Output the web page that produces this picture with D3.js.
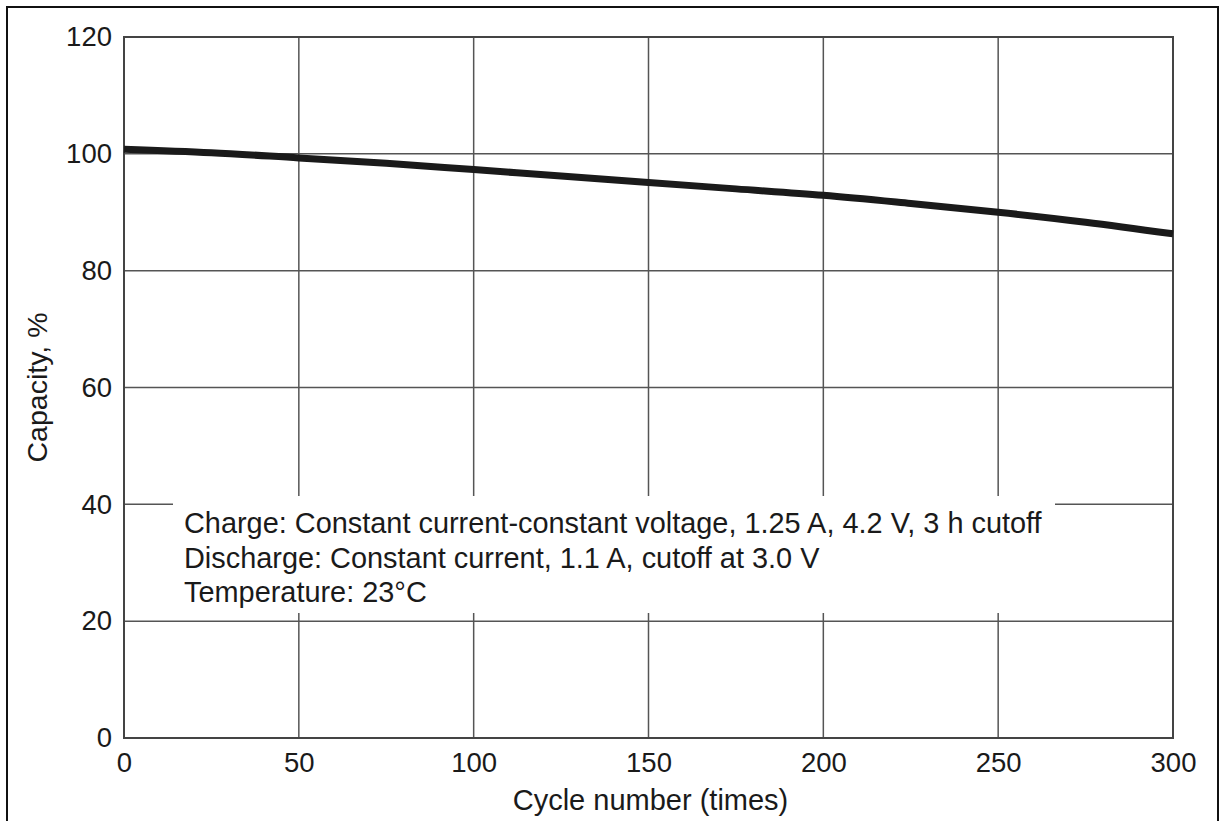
<!DOCTYPE html>
<html><head><meta charset="utf-8">
<script src="https://cdn.jsdelivr.net/npm/d3@7"></script>
<style>
html,body{margin:0;padding:0;background:#fff;overflow:hidden;}
text{font-family:"Liberation Sans",Arial,Helvetica,sans-serif;fill:#1a1a1a;}
</style></head>
<body>
<svg id="chart" width="1221" height="821"></svg>
<script>
const cycles   = [0, 25, 50, 75, 100, 125, 150, 175, 200, 225, 250, 275, 300];
const capacity = [100.8, 100.2, 99.3, 98.4, 97.3, 96.2, 95.1, 94.0, 92.9, 91.5, 90.0, 88.3, 86.3];
const xTicks = [0, 50, 100, 150, 200, 250, 300];
const yTicks = [0, 20, 40, 60, 80, 100, 120];
const xTitle = "Cycle number (times)";
const yTitle = "Capacity, %";
const noteLines = [
  "Charge: Constant current-constant voltage, 1.25 A, 4.2 V, 3 h cutoff",
  "Discharge: Constant current, 1.1 A, cutoff at 3.0 V",
  "Temperature: 23\u00B0C"
];

const svg = d3.select("#chart");
const m = {left:124, top:37, right:1173, bottom:738};
const x = d3.scaleLinear().domain([0,300]).range([m.left, m.right]);
const y = d3.scaleLinear().domain([0,120]).range([m.bottom, m.top]);

// outer frame
svg.append("rect").attr("x",7).attr("y",7).attr("width",1211).attr("height",830)
  .attr("fill","none").attr("stroke","#111").attr("stroke-width",2);

// grid
const g = svg.append("g");
g.selectAll("line.v").data(xTicks).join("line")
  .attr("x1",d=>x(d)).attr("x2",d=>x(d)).attr("y1",m.top).attr("y2",m.bottom)
  .attr("stroke","#555").attr("stroke-width",1.5);
g.selectAll("line.h").data(yTicks).join("line")
  .attr("y1",d=>y(d)).attr("y2",d=>y(d)).attr("x1",m.left).attr("x2",m.right)
  .attr("stroke","#555").attr("stroke-width",1.5);
svg.append("rect").attr("x",m.left).attr("y",m.top).attr("width",m.right-m.left).attr("height",m.bottom-m.top)
  .attr("fill","none").attr("stroke","#444").attr("stroke-width",2);

// axes (labels only)
const xAxis = d3.axisBottom(x).tickValues(xTicks).tickSize(0).tickPadding(14);
const ax = svg.append("g").attr("transform",`translate(0,${m.bottom})`).call(xAxis);
ax.select(".domain").remove();
ax.selectAll("text").style("font-size","27.5px").attr("fill","#1a1a1a")
  .style("font-family","'Liberation Sans',Arial,sans-serif");
const yAxis = d3.axisLeft(y).tickValues(yTicks).tickSize(0).tickPadding(12);
const ay = svg.append("g").attr("transform",`translate(${m.left},0)`).call(yAxis);
ay.select(".domain").remove();
ay.selectAll("text").style("font-size","27.5px").attr("fill","#1a1a1a")
  .style("font-family","'Liberation Sans',Arial,sans-serif");

// titles
svg.append("text").attr("x",(m.left+m.right)/2 + 2).attr("y",810).attr("text-anchor","middle")
  .style("font-size","29px").text(xTitle);
svg.append("text").attr("transform",`translate(47,${(m.top+m.bottom)/2}) rotate(-90)`)
  .attr("text-anchor","middle").style("font-size","28.5px").text(yTitle);

// curve
const line = d3.line().x((d,i)=>x(cycles[i])).y(d=>y(d)).curve(d3.curveMonotoneX);
svg.append("path").datum(capacity).attr("d",line).attr("fill","none")
  .attr("stroke","#1a1a1a").attr("stroke-width",7);

// note box
svg.append("rect").attr("x",173).attr("y",496).attr("width",882).attr("height",117).attr("fill","#fff");
svg.selectAll("text.note").data(noteLines).join("text").attr("class","note")
  .attr("x",184).attr("y",(d,i)=>533+i*34.5).style("font-size","28.9px").text(d=>d);
</script>
</body></html>
